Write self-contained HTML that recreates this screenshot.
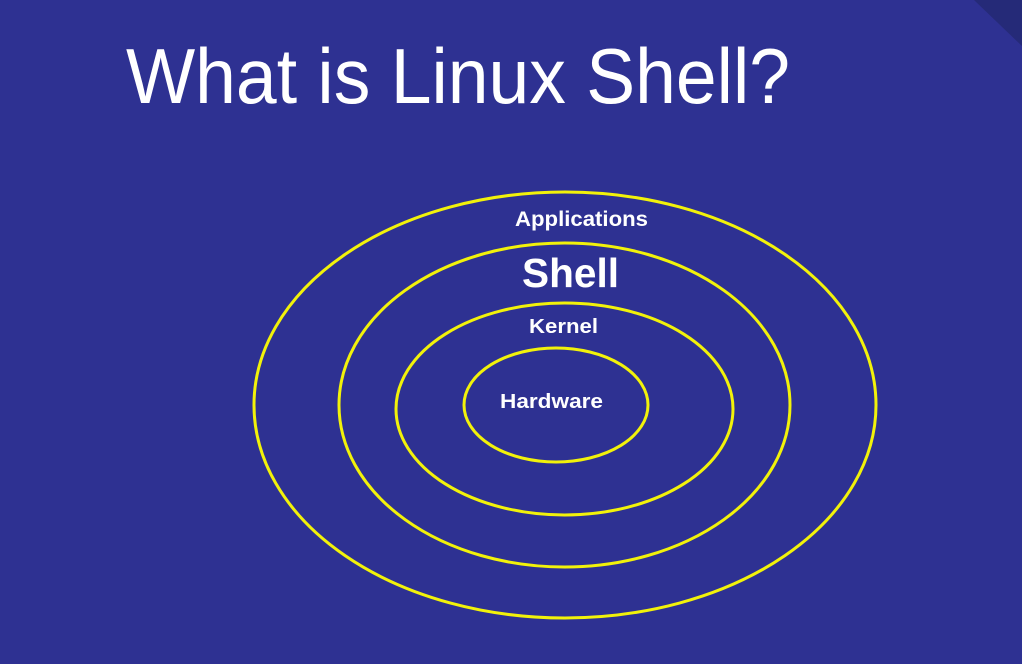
<!DOCTYPE html>
<html><head><meta charset="utf-8"><style>
html,body{margin:0;padding:0;background:#2e3192;}
svg{display:block}
</style></head><body>
<svg width="1022" height="664" viewBox="0 0 1022 664" xmlns="http://www.w3.org/2000/svg">
<rect width="1022" height="664" fill="#2e3192"/>
<polygon points="974,0 1022,0 1022,46" fill="#252a78"/>
<text x="126" y="103" font-family="Liberation Sans, sans-serif" font-size="78" fill="#ffffff" textLength="664" lengthAdjust="spacingAndGlyphs">What is Linux Shell?</text>
<g fill="none" stroke="#f2f20a" stroke-width="3">
<ellipse cx="565" cy="405" rx="311" ry="213"/>
<ellipse cx="564.5" cy="405" rx="225.5" ry="162"/>
<ellipse cx="564.5" cy="409" rx="168.5" ry="106"/>
<ellipse cx="556" cy="405" rx="92" ry="57"/>
</g>
<g font-family="Liberation Sans, sans-serif" font-weight="bold" fill="#ffffff">
<text x="515" y="226" font-size="21" textLength="133" lengthAdjust="spacingAndGlyphs">Applications</text>
<text x="522" y="287" font-size="41" textLength="97" lengthAdjust="spacingAndGlyphs">Shell</text>
<text x="529" y="333" font-size="20" textLength="69" lengthAdjust="spacingAndGlyphs">Kernel</text>
<text x="500" y="408" font-size="20" textLength="103" lengthAdjust="spacingAndGlyphs">Hardware</text>
</g>
</svg>
</body></html>
